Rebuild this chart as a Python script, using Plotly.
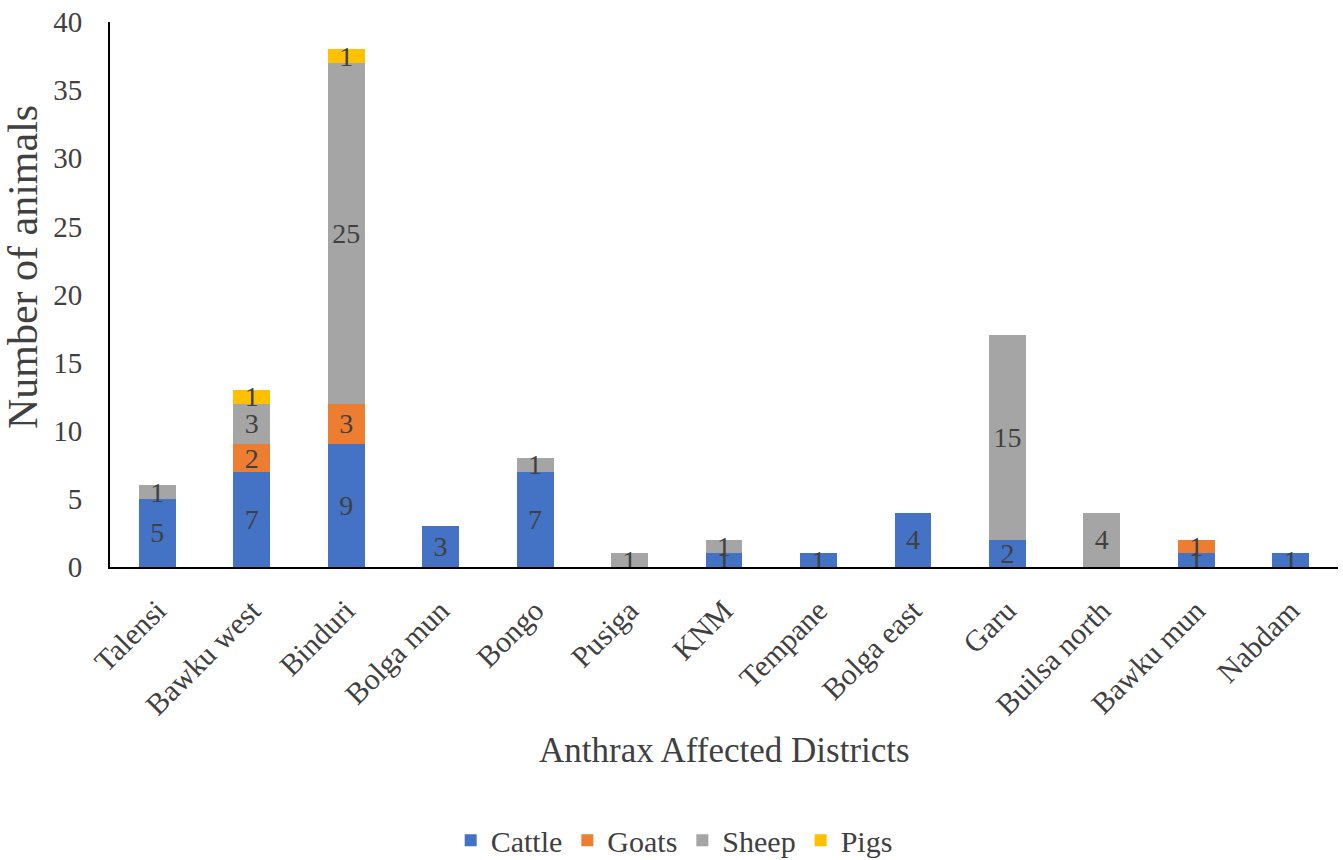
import plotly.graph_objects as go

districts = ["Talensi", "Bawku west", "Binduri", "Bolga mun", "Bongo", "Pusiga", "KNM",
             "Tempane", "Bolga east", "Garu", "Builsa north", "Bawku mun", "Nabdam"]
cattle = [5, 7, 9, 3, 7, 0, 1, 1, 4, 2, 0, 1, 1]
goats = [0, 2, 3, 0, 0, 0, 0, 0, 0, 0, 0, 1, 0]
sheep = [1, 3, 25, 0, 1, 1, 1, 0, 0, 15, 4, 0, 0]
pigs = [0, 1, 1, 0, 0, 0, 0, 0, 0, 0, 0, 0, 0]

series = [("Cattle", cattle, "#4472C4"), ("Goats", goats, "#ED7D31"),
          ("Sheep", sheep, "#A5A5A5"), ("Pigs", pigs, "#FFC000")]

FONT = "Liberation Serif"
TXT = "#404040"
fig = go.Figure()
for name, vals, color in series:
    fig.add_trace(go.Bar(
        x=districts, y=vals, name=name, marker=dict(color=color, line=dict(width=0)),
        text=[str(v) if v else "" for v in vals], textposition="inside",
        insidetextanchor="middle", constraintext="none", textangle=0,
        textfont=dict(family=FONT, size=28, color=TXT),
        hoverinfo="x+y+name",
    ))

fig.update_layout(
    barmode="stack", bargap=0.61,
    width=1343, height=860,
    margin=dict(l=110, r=5, t=22, b=293, autoexpand=False),
    plot_bgcolor="white", paper_bgcolor="white",
    font=dict(family=FONT, color=TXT),
    showlegend=True,
    legend=dict(orientation="h", xref="container", yref="container",
                x=0.502, xanchor="center", y=0.023, yanchor="middle",
                font=dict(family=FONT, size=30, color=TXT), traceorder="normal"),
    xaxis=dict(showline=True, linecolor="black", linewidth=2, tickangle=-45,
               tickfont=dict(family=FONT, size=30, color=TXT), ticks="",
               ticklabelstandoff=12, showgrid=False, automargin=False),
    yaxis=dict(range=[0, 40], dtick=5, showline=True, linecolor="black", linewidth=2,
               showgrid=False, zeroline=False, ticks="", ticklabelstandoff=20,
               automargin=False,
               tickfont=dict(family=FONT, size=29, color=TXT)),
    annotations=[
        dict(text="Anthrax Affected Districts", xref="paper", yref="paper",
             x=0.5, y=-0.336, xanchor="center", yanchor="middle", showarrow=False,
             font=dict(family=FONT, size=35, color=TXT)),
        dict(text="Number of animals", xref="paper", yref="paper", textangle=-90,
             x=-0.071, y=0.55, xanchor="center", yanchor="middle", showarrow=False,
             font=dict(family=FONT, size=42, color=TXT)),
    ],
)

fig.write_html("out.html")
